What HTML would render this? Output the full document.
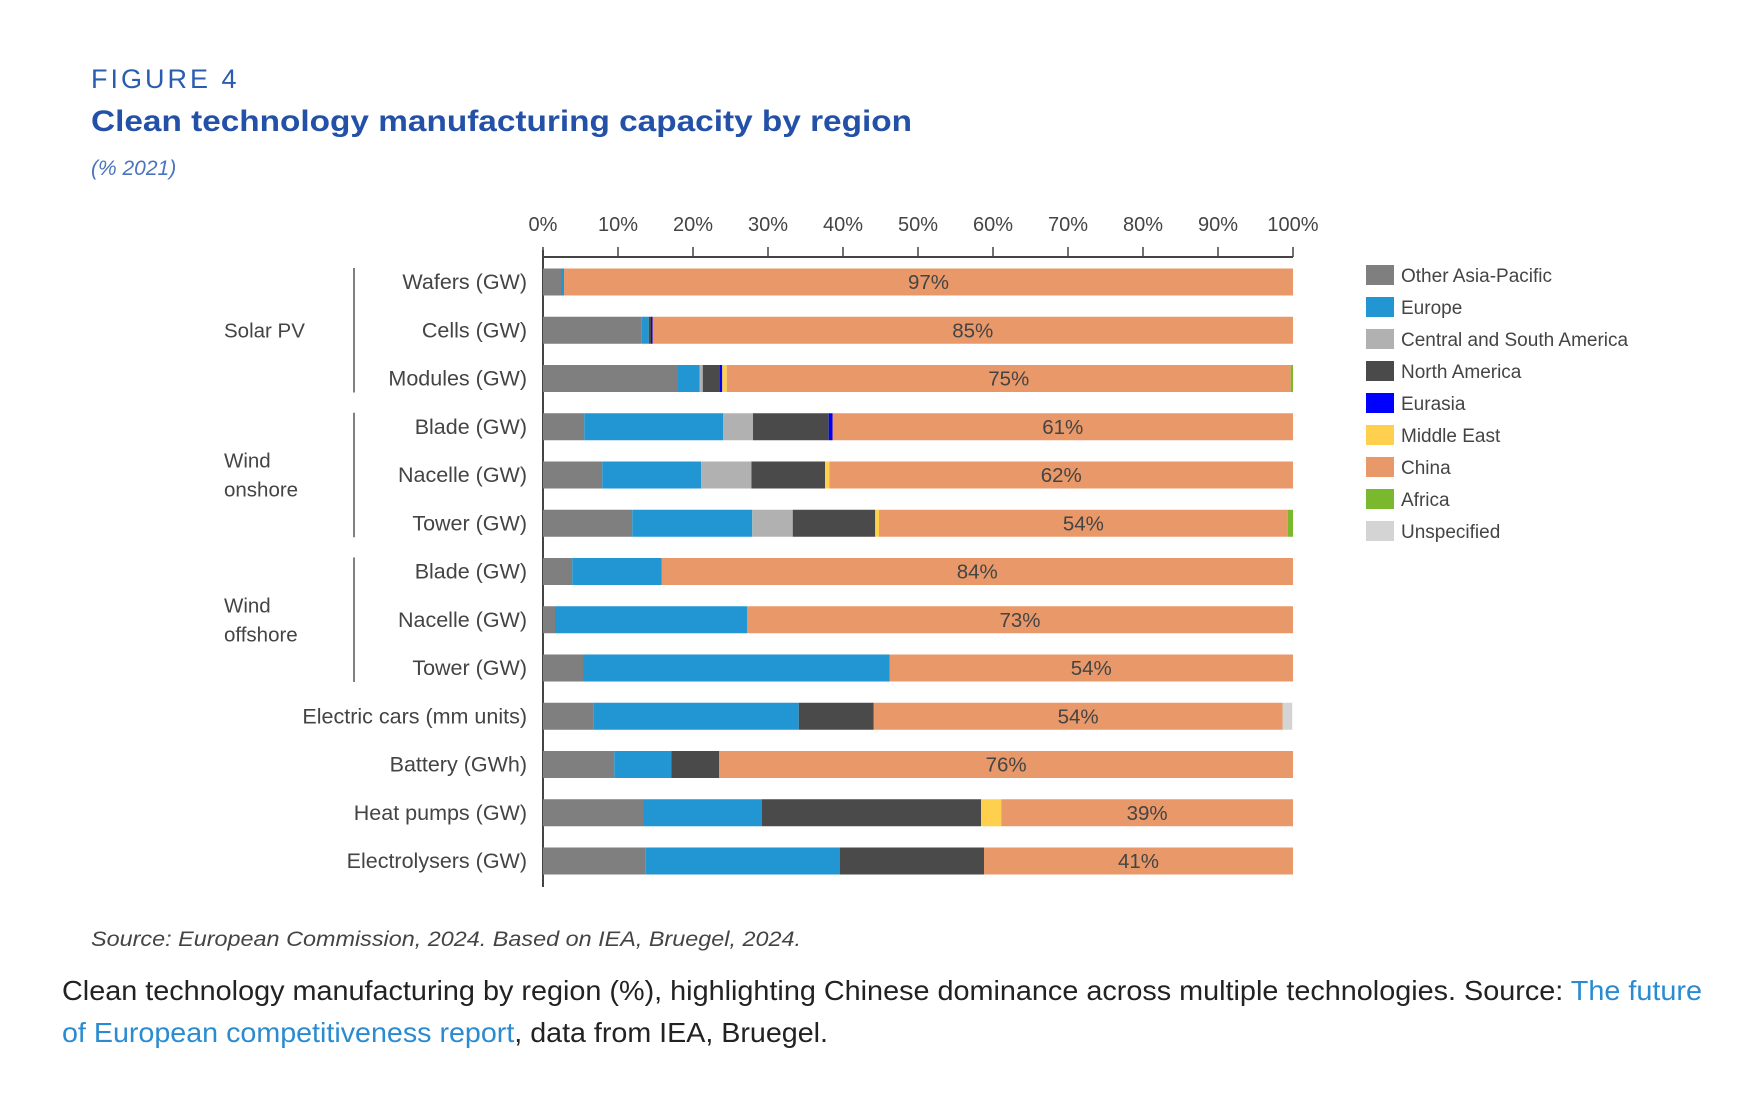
<!DOCTYPE html>
<html><head><meta charset="utf-8"><style>
html,body{margin:0;padding:0;background:#fff;}
svg{display:block;font-family:"Liberation Sans",sans-serif;}
</style></head><body>
<svg id="chart" width="1752" height="1100" viewBox="0 0 1752 1100" xmlns="http://www.w3.org/2000/svg">
<text x="91" y="88" font-size="27" fill="#2a5cb0" letter-spacing="3">FIGURE 4</text>
<text x="91" y="131" font-size="30" font-weight="bold" fill="#2451a8" textLength="821" lengthAdjust="spacingAndGlyphs">Clean technology manufacturing capacity by region</text>
<text x="91" y="175" font-size="21" font-style="italic" fill="#4a74c0">(% 2021)</text>
<g id="xaxis"></g>
<g id="bars"></g>
<g id="ylabels"></g>
<g id="groups"></g>
<g id="legend"></g>
<text x="91" y="946" font-size="21" font-style="italic" fill="#444" textLength="710" lengthAdjust="spacingAndGlyphs">Source: European Commission, 2024. Based on IEA, Bruegel, 2024.</text>
<text x="62" y="1000" font-size="28" fill="#222" textLength="1640" lengthAdjust="spacingAndGlyphs">Clean technology manufacturing by region (%), highlighting Chinese dominance across multiple technologies. Source: <tspan fill="#2a8bd0">The future</tspan></text>
<text x="62" y="1042" font-size="28" fill="#222" textLength="766" lengthAdjust="spacingAndGlyphs"><tspan fill="#2a8bd0">of European competitiveness report</tspan>, data from IEA, Bruegel.</text>
</svg>
<script>
const categories = ["Wafers (GW)","Cells (GW)","Modules (GW)","Blade (GW)","Nacelle (GW)","Tower (GW)","Blade (GW)","Nacelle (GW)","Tower (GW)","Electric cars (mm units)","Battery (GWh)","Heat pumps (GW)","Electrolysers (GW)"];
const seriesNames = ["Other Asia-Pacific","Europe","Central and South America","North America","Eurasia","Middle East","China","Africa","Unspecified"];
const otherAsiaPacific = [2.4,13.1,18.0,5.5,7.9,11.9,3.9,1.6,5.4,6.7,9.5,13.4,13.7];
const europe          = [0.4,1.0,2.9,18.5,13.2,16.0,11.9,25.6,40.8,27.4,7.6,15.8,25.9];
const centralSouthAm  = [0,0,0.4,4.0,6.7,5.4,0,0,0,0,0,0,0];
const northAmerica    = [0,0.3,2.3,10.1,9.8,11.0,0,0,0,10.0,6.4,29.2,19.2];
const eurasia         = [0,0.2,0.3,0.5,0,0,0,0,0,0,0,0,0];
const middleEast      = [0,0,0.6,0,0.6,0.5,0,0,0,0,0,2.7,0];
const china           = [97.2,85.4,75.2,61.4,61.8,54.5,84.2,72.8,53.8,54.5,76.5,38.9,41.2];
const africa          = [0,0,0.3,0,0,0.7,0,0,0,0,0,0,0];
const unspecified     = [0,0,0,0,0,0,0,0,0,1.3,0,0,0];
const chinaLabels = ["97%","85%","75%","61%","62%","54%","84%","73%","54%","54%","76%","39%","41%"];
const tickValues = [0,10,20,30,40,50,60,70,80,90,100];
const groupNames = [["Solar PV"],["Wind","onshore"],["Wind","offshore"]];
const groupSpans = [[0,2],[3,5],[6,8]];

const series = [otherAsiaPacific,europe,centralSouthAm,northAmerica,eurasia,middleEast,china,africa,unspecified];
const colors = ["#7f7f7f","#2196d3","#b1b1b1","#4a4a4a","#0000ff","#ffd04d","#e89869","#7ab82e","#d4d4d4"];
const NS="http://www.w3.org/2000/svg";
const X0=543, X1=1293, Y0=282, STEP=48.25, BH=27;
const xs=v=>X0+(X1-X0)*v/100;
const yc=i=>Y0+i*STEP;
function mk(tag,attrs,parent,txt){const e=document.createElementNS(NS,tag);for(const k in attrs)e.setAttribute(k,attrs[k]);if(txt!=null)e.textContent=txt;parent.appendChild(e);return e;}
const gx=document.getElementById('xaxis'),gb=document.getElementById('bars'),gy=document.getElementById('ylabels'),gg=document.getElementById('groups'),gl=document.getElementById('legend');
let l=mk('line',{x1:X0,x2:X1,y1:257,y2:257,stroke:'#444','stroke-width':2},gx);


l=mk('line',{x1:X0,x2:X0,y1:250,y2:887,stroke:'#444','stroke-width':2},gx);


tickValues.forEach(t=>{
  let tk=mk('line',{x1:xs(t),x2:xs(t),y1:247,y2:257,stroke:'#444','stroke-width':1.5},gx);
  
  
  let tx=mk('text',{x:xs(t),y:231,'font-size':20,'text-anchor':'middle',fill:'#444'},gx,t+'%');
  
  
});
categories.forEach((c,i)=>{
  let acc=0;
  series.forEach((s,k)=>{
    const v=s[i]; if(!v) return;
    const r=mk('rect',{x:xs(acc),y:yc(i)-BH/2,width:xs(acc+v)-xs(acc),height:BH,fill:colors[k]},gb);
    
    
    if(k===6){
      const t=mk('text',{x:(xs(acc)+xs(acc+v))/2,y:yc(i)+7,'font-size':20.5,'text-anchor':'middle',fill:'#444'},gb,chinaLabels[i]);
      
      
    }
    acc+=v;
  });
  const lab=mk('text',{x:527,y:yc(i)+7,'font-size':21.5,'text-anchor':'end',fill:'#444'},gy,c);
  
  
});
groupSpans.forEach((sp,g)=>{
  const ln=mk('line',{x1:354,x2:354,y1:yc(sp[0])-14,y2:yc(sp[1])+14,stroke:'#555','stroke-width':1.5},gg);
  
  
  const mid=(yc(sp[0])+yc(sp[1]))/2, n=groupNames[g].length;
  groupNames[g].forEach((w,j)=>{
    const t=mk('text',{x:224,y:mid+7+(j-(n-1)/2)*29,'font-size':20.5,fill:'#444'},gg,w);
    
    
  });
});
seriesNames.forEach((n,k)=>{
  const y=265+k*32;
  const r=mk('rect',{x:1366,y:y,width:28,height:20,fill:colors[k]},gl);
  
  
  const t=mk('text',{x:1401,y:y+17,'font-size':19,fill:'#444'},gl,n);
  
  
});
</script>
</body></html>
